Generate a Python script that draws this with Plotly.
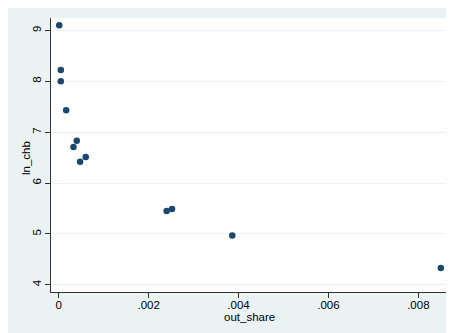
import plotly.graph_objects as go

out_share = [0.00001, 0.000045, 0.000045, 0.000164, 0.0004, 0.000327, 0.000475, 0.0006,
             0.0024, 0.00252, 0.00386, 0.0085]
ln_chb = [9.10, 8.22, 8.00, 7.43, 6.83, 6.71, 6.42, 6.51,
          5.45, 5.49, 4.97, 4.33]

x_tickvals = [0, 0.002, 0.004, 0.006, 0.008]
x_ticktext = ["0", ".002", ".004", ".006", ".008"]
y_tickvals = [4, 5, 6, 7, 8, 9]
y_ticktext = ["4", "5", "6", "7", "8", "9"]

fig = go.Figure(go.Scatter(
    x=out_share, y=ln_chb, mode="markers",
    marker=dict(color="#1a476f", size=6.5, line=dict(width=0)),
    showlegend=False, cliponaxis=False,
))

font = dict(family="Liberation Sans, Arial, sans-serif", size=11.5, color="#000000")

fig.update_layout(
    width=446, height=325,
    margin=dict(l=43, r=6, t=10, b=41),
    paper_bgcolor="#eaf2f3",
    plot_bgcolor="#ffffff",
    font=font,
    xaxis=dict(
        range=[-0.000173, 0.00866],
        tickvals=x_tickvals, ticktext=x_ticktext,
        showgrid=False, zeroline=False,
        showline=True, linecolor="#333333", linewidth=1.2,
        ticks="outside", ticklen=5, tickcolor="#333333",
        ticklabelstandoff=-3,
    ),
    yaxis=dict(
        range=[3.858, 9.244],
        tickvals=y_tickvals, ticktext=y_ticktext, tickangle=-90,
        showgrid=True, gridcolor="#eaf2f3", gridwidth=1, zeroline=False,
        showline=True, linecolor="#333333", linewidth=1.2,
        ticks="outside", ticklen=5, tickcolor="#333333",
        ticklabelstandoff=-1,
    ),
    annotations=[
        dict(text="out_share", xref="paper", yref="paper", x=0.5, y=0,
             xanchor="center", yanchor="middle", yshift=-24.5, showarrow=False,
             font=font),
        dict(text="ln_chb", xref="paper", yref="paper", x=0, y=0.49,
             xanchor="center", yanchor="middle", xshift=-25.7, textangle=-90,
             showarrow=False, font=font),
    ],
)

fig.write_html("out.html")
